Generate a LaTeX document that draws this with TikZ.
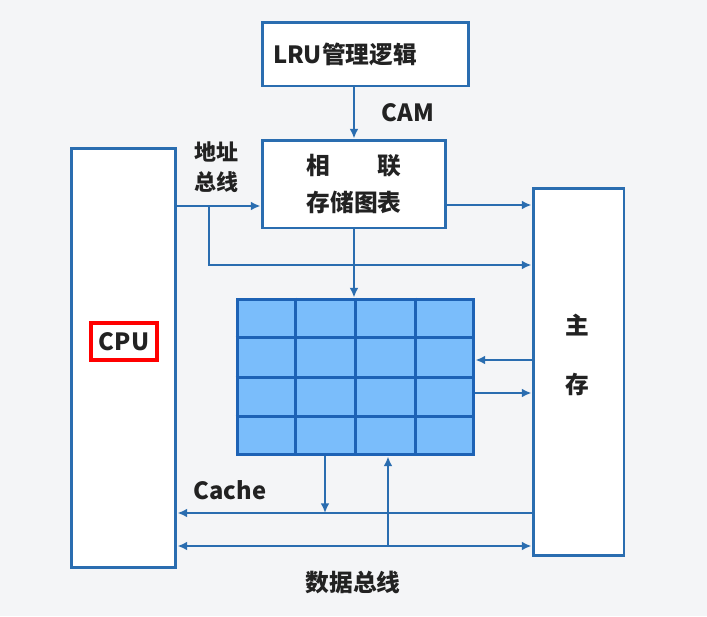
\documentclass[tikz,border=0pt]{standalone}
\usepackage{fontspec}
\setmainfont{Noto Sans CJK SC}
\usetikzlibrary{arrows.meta, calc}
\definecolor{bus}{HTML}{2A6DB0}
\definecolor{cell}{HTML}{7ABDFB}
\definecolor{cellline}{HTML}{1D62B5}
\definecolor{bg}{HTML}{F4F5F7}
\definecolor{ink}{HTML}{222222}
\tikzset{
  blk/.style={draw=bus, line width=1.7pt, fill=white, inner sep=0pt},
  tra/.style={-{Latex[length=5.5pt,width=5pt]}, draw=bus, line width=1.6pt},
  lab/.style={text=ink, font=\fontsize{13.5}{21}\selectfont\bfseries, inner sep=0pt, align=center},
  grd/.style={draw=cellline, line width=1.7pt}
}

\begin{document}
\begin{tikzpicture}[x=0.02cm, y=-0.02cm]
  \fill[bg] (0,0) rectangle (707,616);
  \useasboundingbox (0,0) rectangle (707,616);
  % boxes
  \node[blk, lab, text width=3.7cm, align=left, inner xsep=0.22cm, minimum height=1.28cm] (lru) at (365.5,54) {LRU管理逻辑};
  \node[blk, lab, minimum width=3.68cm, minimum height=1.76cm] (cam) at (354,184) {相\hspace{2em}联\\存储图表};
  \node[blk, minimum width=2.1cm, minimum height=8.4cm] (cpu) at (123.5,358) {};
  \node[blk, minimum width=1.82cm, minimum height=7.36cm] (mem) at (578.5,372) {};
  \node[lab, draw=red, line width=2.3pt, fill=white, minimum width=1.32cm, minimum height=0.74cm] (cpulab) at (124,341.5) {CPU};
  \node[lab, font=\fontsize{13.5}{34}\selectfont\bfseries] (memlab) at (577,355) {主\\存};
  % cache grid
  \node[grd, fill=cell, minimum width=4.74cm, minimum height=3.12cm, inner sep=0pt] (grid) at (355.5,377) {};
  \foreach \i in {1,2,3} {
    \draw[grd] ($(grid.north west)!\i/4!(grid.north east)$) -- ($(grid.south west)!\i/4!(grid.south east)$);
    \draw[grd] ($(grid.north west)!\i/4!(grid.south west)$) -- ($(grid.north east)!\i/4!(grid.south east)$);
  }
  % labels
  \node[lab, font=\fontsize{12.5}{17}\selectfont\bfseries] (addr) at (216,167) {地址\\总线};
  \node[lab] (camlab) at (408,113) {CAM};
  \node[lab] (cachelab) at (230,490) {Cache};
  \node[lab] (dbus) at (353,582) {数据总线};
  % buses
  \coordinate (tap) at (209,206);
  \coordinate (rd) at (325,513);
  \coordinate (wr) at (388,546);
  \draw[tra] (cam.north |- lru.south) -- (cam.north);
  \draw[tra] (cpu.east |- tap) -- (cam.west |- tap);
  \draw[tra] (tap) -- (tap |- 0,265) -- (mem.west |- 0,265);
  \draw[tra] (cam.east |- 0,205) -- (mem.west |- 0,205);
  \draw[tra] (cam.south) -- (cam.south |- grid.north);
  \draw[tra] (mem.west |- 0,360) -- (grid.east |- 0,360);
  \draw[tra] (grid.east |- 0,393) -- (mem.west |- 0,393);
  \draw[tra] (grid.south -| rd) -- (rd);
  \draw[tra] (mem.west |- rd) -- (cpu.east |- rd);
  \draw[tra, {Latex[length=5.5pt,width=5pt]}-{Latex[length=5.5pt,width=5pt]}] (cpu.east |- wr) -- (mem.west |- wr);
  \draw[tra] (wr) -- (grid.south -| wr);
\end{tikzpicture}
\end{document}
